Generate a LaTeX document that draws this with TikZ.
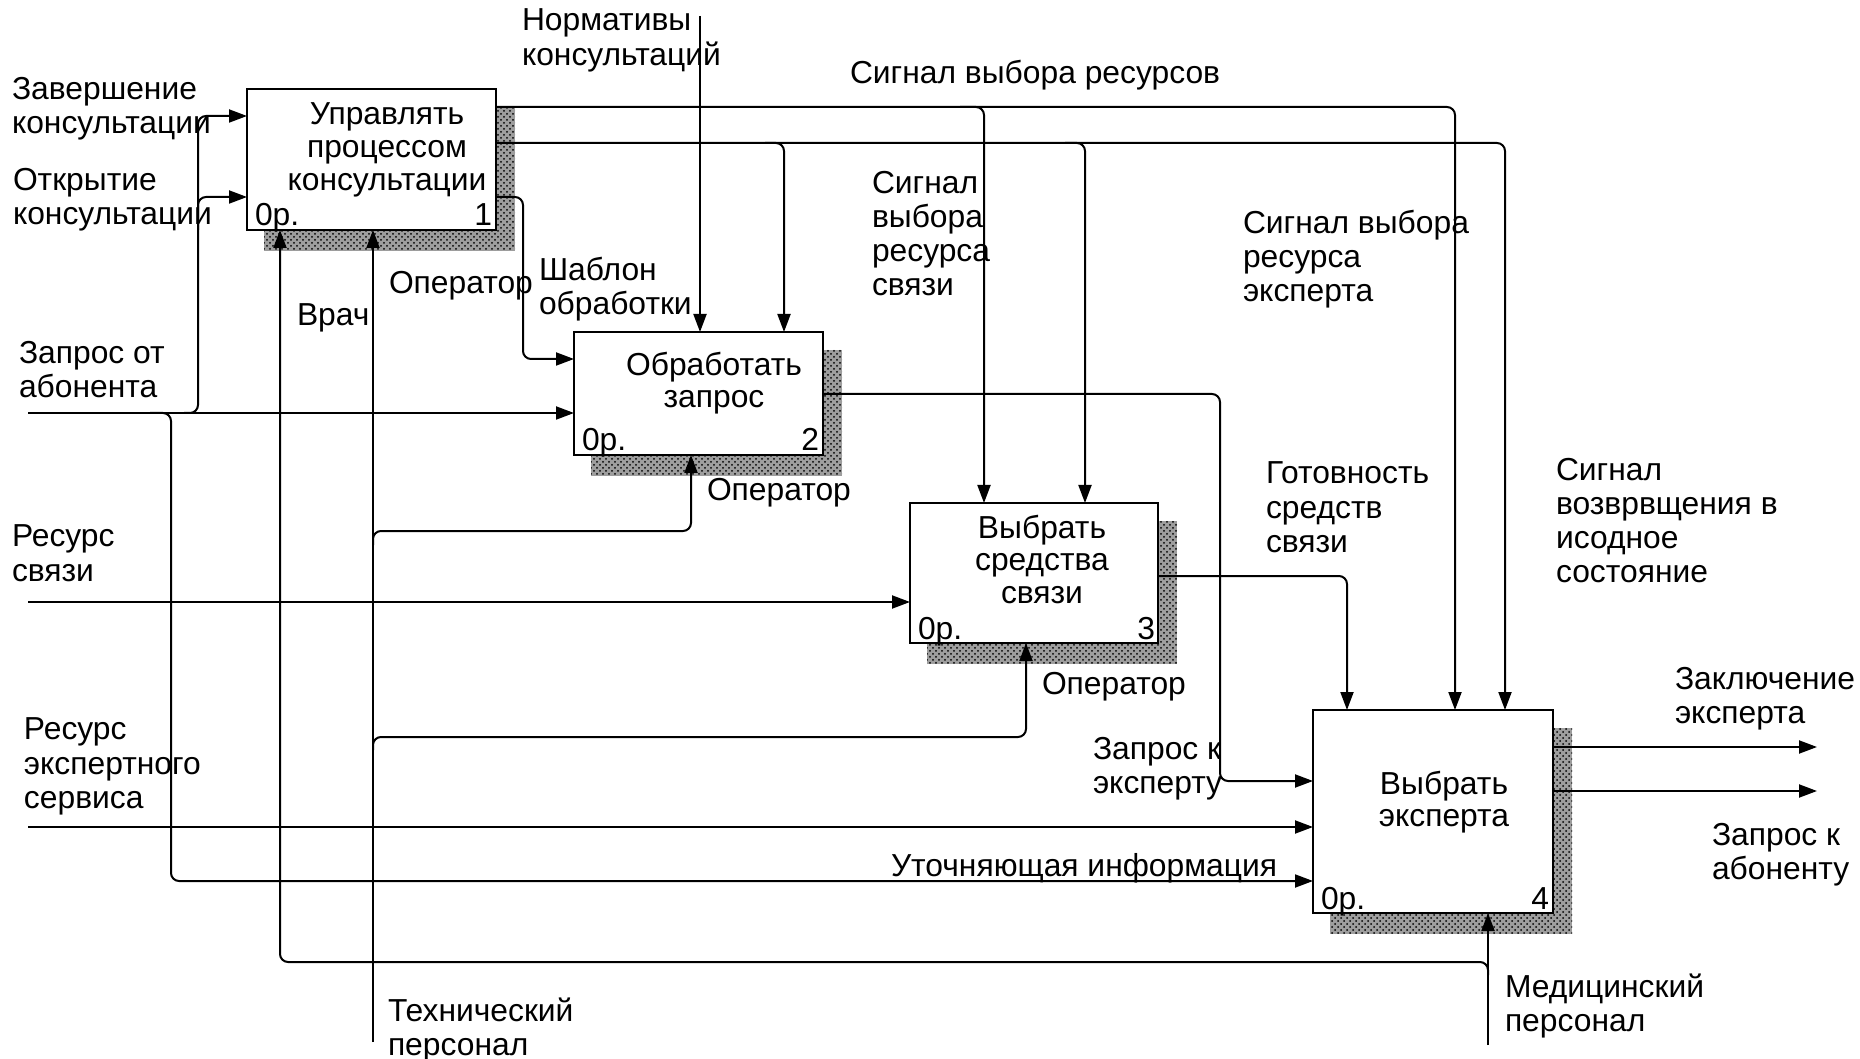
\documentclass[tikz,border=0pt]{standalone}
\usepackage{fontspec}
\setmainfont{Liberation Sans}
\usetikzlibrary{arrows.meta,patterns}
\begin{document}
\begin{tikzpicture}[x=0.5pt,y=-0.5pt,
  every node/.style={inner sep=0pt, outer sep=0pt},
  txt/.style={font=\fontsize{15.9}{16.3}\selectfont},
  lbl/.style={font=\fontsize{15.9}{17.1}\selectfont, align=left, anchor=north west},
  ttl/.style={txt, align=center, anchor=north},
  box/.style={draw, line width=1.1pt, fill=white, rectangle},
  arr/.style={line width=1pt, -{Triangle[length=9pt,width=6.5pt]}},
  rc/.style={rounded corners=4pt}]
\useasboundingbox (0,0) rectangle (1860,1059);

% hatched drop shadows
\foreach \xa/\ya/\xb/\yb in {264/107/515/251, 591/350/842/476, 927/521/1177/664, 1330/728/1572/934}{
  \fill[black!38] (\xa,\ya) rectangle (\xb,\yb);
  \fill[pattern=crosshatch dots, pattern color=black] (\xa,\ya) rectangle (\xb,\yb);
}

% activity boxes
\node[box, minimum width=124.5pt, minimum height=70.5pt] (b1) at (371.5,159.5) {};
\node[box, minimum width=124.5pt, minimum height=61.5pt] (b2) at (698.5,393.5) {};
\node[box, minimum width=124pt, minimum height=70pt] (b3) at (1034,573) {};
\node[box, minimum width=120pt, minimum height=101.5pt] (b4) at (1433,811.5) {};

\node[ttl] (t1) at (387,103) {Управлять\\процессом\\консультации};
\node[ttl] (t2) at (714,352) {Обработать\\запрос};
\node[ttl] (t3) at (1042,515) {Выбрать\\средства\\связи};
\node[ttl] (t4) at (1444,771) {Выбрать\\эксперта};

\node[txt, anchor=base west] (c1) at (255,226) {0р.};
\node[txt, anchor=base east] (n1) at (492,226) {1};
\node[txt, anchor=base west] (c2) at (582,451) {0р.};
\node[txt, anchor=base east] (n2) at (819,451) {2};
\node[txt, anchor=base west] (c3) at (918,639) {0р.};
\node[txt, anchor=base east] (n3) at (1155,639) {3};
\node[txt, anchor=base west] (c4) at (1321,909) {0р.};
\node[txt, anchor=base east] (n4) at (1549,909) {4};

% free ends of boundary arrows
\coordinate (inA) at (28,413);
\coordinate (inB) at (28,602);
\coordinate (inC) at (28,827);
\coordinate (ctl) at (700,16);
\coordinate (mechA) at (373,1042);
\coordinate (mechB) at (1488,1045);
\coordinate (outA) at (1817,747);
\coordinate (outB) at (1817,791);

% controls
\draw[arr] (ctl) -- (700,0 |- b2.north);
\draw[arr, rc] (b1.east |- 0,107) -| (1455,0 |- b4.north);
\draw[arr, rc] (960,107) -| (984,0 |- b3.north);
\draw[arr, rc] (b1.east |- 0,143) -| (1505,0 |- b4.north);
\draw[arr, rc] (765,143) -| (784,0 |- b2.north);
\draw[arr, rc] (1065,143) -| (1085,0 |- b3.north);
\draw[arr, rc] (b3.east |- 0,576) -| (1347,0 |- b4.north);

% inputs
\draw[arr] (inA) -- (b2.west |- inA);
\draw[arr, rc] (184,413) -| (198,116) -- (b1.west |- 0,116);
\draw[arr, rc] (198,230) |- (b1.west |- 0,197);
\draw[arr, rc] (150,413) -| (171,881) -- (b4.west |- 0,881);
\draw[arr] (inB) -- (b3.west |- inB);
\draw[arr] (inC) -- (b4.west |- inC);
\draw[arr, rc] (b1.east |- 0,197) -| (523,359) -- (b2.west |- 0,359);
\draw[arr, rc] (b2.east |- 0,394) -| (1220,781) -- (b4.west |- 0,781);

% mechanisms
\draw[arr] (mechA) -- (373,0 |- b1.south);
\draw[arr, rc] (373,545) |- (691,531) -- (691,0 |- b2.south);
\draw[arr, rc] (373,750) |- (1026,737) -- (1026,0 |- b3.south);
\draw[arr] (mechB) -- (1488,0 |- b4.south);
\draw[arr, rc] (1488,975) |- (280,962) -- (280,0 |- b1.south);

% outputs
\draw[arr] (b4.east |- outA) -- (outA);
\draw[arr] (b4.east |- outB) -- (outB);

% arrow labels
\node[lbl] (l1) at (12,77) {Завершение\\консультации};
\node[lbl] (l2) at (13,168) {Открытие\\консультации};
\node[lbl] (l3) at (19,341) {Запрос от\\абонента};
\node[lbl] (l4) at (12,525) {Ресурс\\связи};
\node[lbl] (l5) at (24,718) {Ресурс\\экспертного\\сервиса};
\node[lbl] (l6) at (388,998) {Технический\\персонал};
\node[lbl] (l7) at (522,9) {Нормативы\\консультаций};
\node[lbl] (l8) at (297,304) {Врач};
\node[lbl] (l9) at (389,271) {Оператор};
\node[lbl] (l10) at (539,257) {Шаблон\\обработки};
\node[lbl] (l11) at (850,60) {Сигнал выбора ресурсов};
\node[lbl] (l12) at (872,171) {Сигнал\\выбора\\ресурса\\связи};
\node[lbl] (l13) at (1243,210) {Сигнал выбора\\ресурса\\эксперта};
\node[lbl] (l14) at (707,478) {Оператор};
\node[lbl] (l15) at (1266,462) {Готовность\\средств\\связи};
\node[lbl] (l16) at (1556,458) {Сигнал\\возврвщения в\\исодное\\состояние};
\node[lbl] (l17) at (1042,672) {Оператор};
\node[lbl] (l18) at (1093,737) {Запрос к\\эксперту};
\node[lbl] (l19) at (891,853) {Уточняющая информация};
\node[lbl] (l20) at (1675,667) {Заключение\\эксперта};
\node[lbl] (l21) at (1712,823) {Запрос к\\абоненту};
\node[lbl] (l22) at (1505,974) {Медицинский\\персонал};
\end{tikzpicture}
\end{document}
